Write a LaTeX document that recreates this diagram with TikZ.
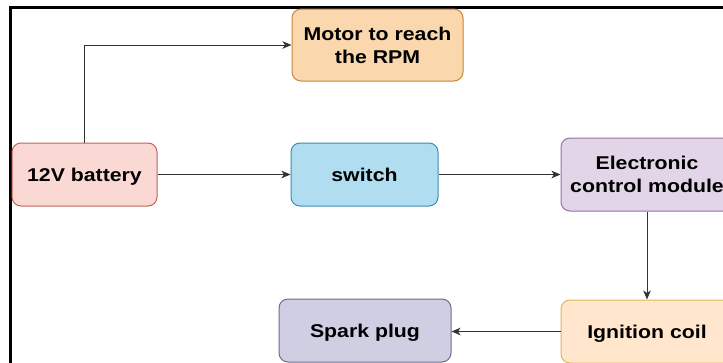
\documentclass[tikz,border=0pt]{standalone}
\usepackage{fontspec}
\setmainfont{Liberation Sans}[FakeStretch=1.15]
\usetikzlibrary{arrows.meta}

\definecolor{motorfill}{HTML}{FAD7AC}\definecolor{motordraw}{HTML}{C8873A}
\definecolor{battfill}{HTML}{FAD9D5}\definecolor{battdraw}{HTML}{C0635A}
\definecolor{swfill}{HTML}{B1DDF0}\definecolor{swdraw}{HTML}{3A8DB5}
\definecolor{ecmfill}{HTML}{E1D5E7}\definecolor{ecmdraw}{HTML}{9673A6}
\definecolor{ignfill}{HTML}{FFE6CC}\definecolor{igndraw}{HTML}{E0B85A}
\definecolor{sparkfill}{HTML}{D0CEE2}\definecolor{sparkdraw}{HTML}{6E6A92}
\definecolor{wire}{HTML}{333333}

\begin{document}
\begin{tikzpicture}[x=1pt,y=-1pt,
  block/.style={rounded corners=9pt, line width=1pt, align=center,
    font=\fontsize{18.5}{23}\selectfont\bfseries, inner sep=0pt},
  oneline/.style={text height=13.3pt, text depth=0pt},
  flow/.style={draw=wire, line width=1pt,
    -{Stealth[length=9pt,width=7.5pt,inset=2.5pt]}}]
  \useasboundingbox (0,0) rectangle (723,362);
  \fill[white] (0,0) rectangle (723,362);

  % outer frame (left and top edges visible)
  \draw[line width=3pt] (10,380) -- (10,7.5) -- (740,7.5);

  \node[block, fill=motorfill, draw=motordraw, minimum width=171pt, minimum height=72pt]
    (motor) at (377.5,45) {Motor to reach\\the RPM};
  \node[block, oneline, fill=battfill, draw=battdraw, minimum width=145pt, minimum height=63pt]
    (batt) at (84.5,174.5) {12V battery};
  \node[block, oneline, fill=swfill, draw=swdraw, minimum width=147pt, minimum height=63pt]
    (sw) at (364.5,174.5) {switch};
  \node[block, fill=ecmfill, draw=ecmdraw, minimum width=172pt, minimum height=73pt]
    (ecm) at (647,174.5) {Electronic\\control module};
  \node[block, oneline, fill=ignfill, draw=igndraw, minimum width=172pt, minimum height=63pt]
    (ign) at (647,331.5) {Ignition coil};
  \node[block, oneline, fill=sparkfill, draw=sparkdraw, minimum width=172pt, minimum height=63pt]
    (spark) at (365,330.5) {Spark plug};

  \draw[flow] (batt.north) |- (motor.west);
  \draw[flow] (batt.east) -- (sw.west);
  \draw[flow] (sw.east) -- (ecm.west);
  \draw[flow] (ecm.south) -- (ign.north);
  \draw[flow] (ign.west) -- (spark.east |- ign.west);
\end{tikzpicture}
\end{document}
